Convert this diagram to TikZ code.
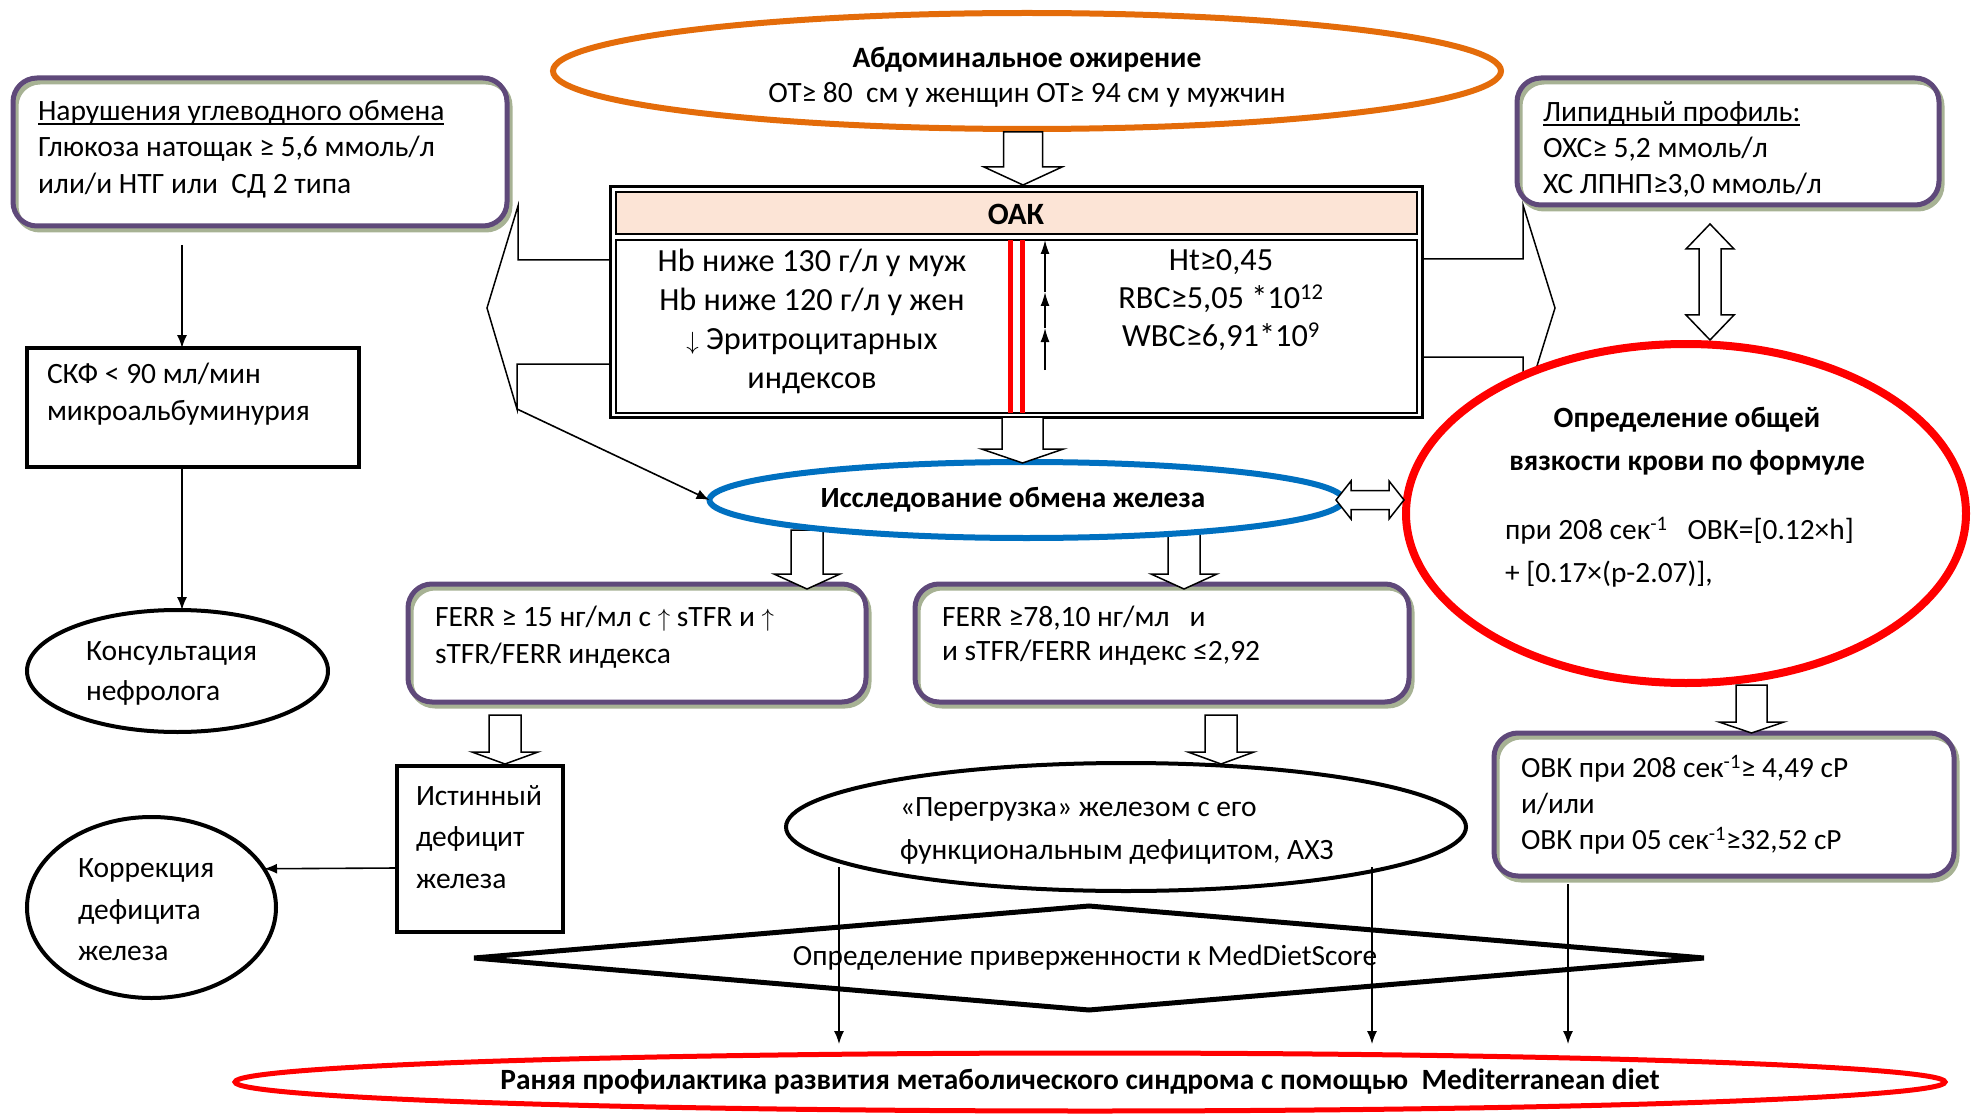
\documentclass[tikz,border=0pt]{standalone}
\usepackage{fontspec}
\setmainfont{Carlito}
\usetikzlibrary{shapes.geometric,arrows.meta,calc}
\definecolor{purp}{HTML}{5F497A}
\definecolor{sage}{HTML}{A7B294}
\definecolor{orng}{HTML}{E46C0A}
\definecolor{blu}{HTML}{0070C0}
\definecolor{peach}{HTML}{FCE4D6}
\newcommand\fs[2]{\fontsize{#1}{#2}\selectfont}
\newcommand\uln[1]{\setbox0\hbox{#1}\rlap{\rule[-5pt]{\wd0}{1.8pt}}\box0}
\newcommand\BlkDown[6]{\draw[blk] ({#1-#4},#2) -- ({#1-#4},{#3-#6}) -- ({#1-#5},{#3-#6}) -- (#1,#3) -- ({#1+#5},{#3-#6}) -- ({#1+#4},{#3-#6}) -- ({#1+#4},#2) -- cycle;}
\begin{document}
\begin{tikzpicture}[x=1pt,y=-1pt,
  every node/.style={inner sep=0pt,outer sep=0pt},
  rbox/.style={rectangle,rounded corners=24pt,draw=purp,line width=5pt,
     preaction={fill=white},
     preaction={draw=sage,line width=5pt,transform canvas={shift={(3pt,-4pt)}}}},
  kbox/.style={rectangle,draw,line width=4pt,fill=white},
  kell/.style={ellipse,draw,line width=4pt,fill=white},
  blk/.style={draw,line width=1.5pt,fill=white,line join=miter},
  arr/.style={-{Latex[length=13pt,width=10pt]},line width=1.6pt},
  uparr/.style={-{Latex[length=14pt,width=9pt]},line width=1.5pt},
  tl/.style={align=left,anchor=west},
  tc/.style={align=center},
]
\useasboundingbox (0,0) rectangle (1973,1115);

% side block arrows
\draw[blk] (610,260) -- (518,260) -- (518,206) -- (487,308) -- (517,409) -- (517,364) -- (610,364);
\coordinate (lbB) at (517,409);
\draw[blk] (1423,259) -- (1523,259) -- (1523,205) -- (1555,308) -- (1523,411) -- (1523,357) -- (1423,357);
% vertical double arrow lipid <-> viscosity
\draw[blk] (1710,224) -- (1734,249) -- (1721,249) -- (1721,315) -- (1734,315) -- (1710,340) -- (1686,315) -- (1699,315) -- (1699,249) -- (1686,249) -- cycle;

% top row
\node[rbox,minimum width=494,minimum height=148] (carb) at (260,152) {};
\node[tl,font=\fs{29.5}{36.5}] (carbT) at (38,149) {\uln{Нарушения углеводного обмена}\\Глюкоза натощак ≥ 5,6 ммоль/л\\или/и НТГ или\ \ СД 2 типа};
\node[rbox,minimum width=422,minimum height=127] (lipid) at (1728,141.5) {};
\node[tl,font=\fs{29.5}{36}] (lipT) at (1543,149) {\uln{Липидный профиль:}\\ОХС≥ 5,2 ммоль/л\\ХС ЛПНП≥3,0 ммоль/л};
\node[ellipse,draw=orng,line width=6pt,fill=white,minimum width=948,minimum height=116] (abd) at (1027,71) {};
\node[tc,font=\fs{29.5}{35}] (abdT) at (1027,77) {\textbf{Абдоминальное ожирение}\\ОТ≥ 80\ \ см у женщин ОТ≥ 94 см у мужчин};

% OAK table
\node[draw,line width=2.5pt,fill=white,minimum width=812,minimum height=231] (oak) at (1016.5,302) {};
\node[draw,line width=2.5pt,fill=peach,minimum width=801,minimum height=42] (oakh) at (1016.5,213) {};
\node[draw,line width=2.5pt,minimum width=801,minimum height=173] (oakb) at (1016.5,326.5) {};
\node[font=\bfseries\fs{31}{34}] (oakH) at (1016,214) {ОАК};
\draw[red,line width=5pt] (1010,240) -- (1010,413);
\draw[red,line width=5pt] (1022,240) -- (1022,413);
\coordinate (u0) at (1045,370);
\coordinate (u1) at (1045,328);
\coordinate (u2) at (1045,292);
\coordinate (u3) at (1045,240);
\draw[uparr] (u0) -- (u1);
\draw[uparr] (u1) -- (u2);
\draw[uparr] (u2) -- (u3);
\node[tc,font=\fs{32.3}{39}] (oakL) at (812,321) {Hb ниже 130 г/л у муж\\Hb ниже 120 г/л у жен\\$\big\downarrow$ Эритроцитарных\\индексов};
\node[tc,font=\fs{32.3}{38}] (oakR) at (1221,300) {Ht≥0,45\\RBC≥5,05 *10\textsuperscript{12}\\WBC≥6,91*10\textsuperscript{9}};
\BlkDown{1023}{132}{185}{19.5}{39}{18}

% viscosity ellipse
\node[ellipse,draw=red,line width=8pt,fill=white,minimum width=560,minimum height=339] (visc) at (1686,513.5) {};
\node[tc,font=\bfseries\fs{29.4}{43}] (viscT) at (1687,441.5) {Определение общей\\вязкости крови по формуле};
\node[tl,font=\fs{29.4}{43}] (viscF) at (1505,552.5) {при 208 сек\textsuperscript{-1}\ \ \ ОВК=[0.12×h]\\+ [0.17×(p-2.07)],};

% ferritin boxes
\node[rbox,minimum width=458,minimum height=118] (ferrA) at (637,643) {};
\node[tl,font=\fs{29.5}{37}] (ferrAT) at (435,637.5) {FERR ≥ 15 нг/мл с $\big\uparrow$ sTFR и $\big\uparrow$\\sTFR/FERR индекса};
\node[rbox,minimum width=494,minimum height=118] (ferrB) at (1162,643) {};
\node[tl,font=\fs{29.5}{34}] (ferrBT) at (942,636) {FERR ≥78,10 нг/мл\ \ \ и\\и sTFR/FERR индекс ≤2,92};
\BlkDown{807}{530}{589}{16}{33}{15}
\BlkDown{1184}{530}{589}{16}{33}{15}

% iron ellipse
\node[ellipse,draw=blu,line width=6pt,fill=white,minimum width=634,minimum height=76] (iron) at (1026.5,500) {};
\node[font=\bfseries\fs{29.3}{34}] (ironT) at (1013,500) {Исследование обмена железа};
\BlkDown{1022.5}{417}{463}{20.5}{41}{14}
\draw[arr] (lbB) -- (iron.west);
% horizontal double arrow iron <-> viscosity
\draw[blk] (1336,500) -- (1351,481) -- (1351,490.5) -- (1389,490.5) -- (1389,481) -- (1404,500) -- (1389,519) -- (1389,509.5) -- (1351,509.5) -- (1351,519) -- cycle;

% left column
\node[kbox,minimum width=332,minimum height=119] (skf) at (193,407.5) {};
\node[tl,font=\fs{29.5}{37}] (skfT) at (47,394.5) {СКФ < 90 мл/мин\\микроальбуминурия};
\node[kell,minimum width=301,minimum height=122] (kons) at (177.5,671) {};
\node[tl,font=\fs{29.5}{40}] (konsT) at (86,673) {Консультация\\нефролога};
\coordinate (c1) at (182,245);
\draw[arr] (c1) -- (c1 |- skf.north);
\draw[arr] (c1 |- skf.south) -- (c1 |- kons.north);

\node[kbox,minimum width=166,minimum height=166] (ist) at (480,849) {};
\node[tl,font=\fs{29.5}{41.5}] (istT) at (416,837) {Истинный\\дефицит\\железа};
\node[kell,minimum width=249,minimum height=181] (korr) at (151.5,907.5) {};
\node[tl,font=\fs{29.5}{41.5}] (korrT) at (78,910) {Коррекция\\дефицита\\железа};
\draw[arr] ($(ist.west)+(0,19)$) -- (korr.19);
\BlkDown{505}{715}{764}{16}{33}{12}

% overload ellipse
\node[kell,minimum width=680,minimum height=128] (perg) at (1126,827) {};
\node[tl,font=\fs{29.5}{43}] (pergT) at (900,830.5) {«Перегрузка» железом с его\\функциональным дефицитом, АХЗ};
\BlkDown{1221}{715}{764}{16}{33}{12}

% OVK box
\node[rbox,minimum width=460,minimum height=143] (ovk) at (1724,804.5) {};
\node[tl,font=\fs{29.3}{36}] (ovkT) at (1521,805) {ОВК при 208 сек\textsuperscript{-1}≥ 4,49 сР\\и/или\\ОВК при 05 сек\textsuperscript{-1}≥32,52 сР};
\BlkDown{1751.5}{685}{733}{15.5}{32.5}{11}

% diamond and diet
\node[diamond,draw,line width=5pt,minimum width=1230,minimum height=104] (diam) at (1089,958) {};
\node[font=\fs{29.3}{32}] (diamT) at (1085,958) {Определение приверженности к MedDietScore};
\node[ellipse,draw=red,line width=5pt,minimum width=1710,minimum height=58] (diet) at (1090,1082) {};
\node[font=\bfseries\fs{29.4}{32}] (dietT) at (1080,1082) {Раняя профилактика развития метаболического синдрома с помощью\ \ Mediterranean diet};

\coordinate (v1) at (839,867);
\coordinate (v2) at (1372,867);
\coordinate (v3) at (1568,884);
\coordinate (w1) at (839,1044);
\coordinate (w2) at (1372,1044);
\coordinate (w3) at (1568,1044);
\draw[arr,line width=1.4pt] (v1) -- (w1);
\draw[arr,line width=1.4pt] (v2) -- (w2);
\draw[arr,line width=1.4pt] (v3) -- (w3);
\end{tikzpicture}
\end{document}
